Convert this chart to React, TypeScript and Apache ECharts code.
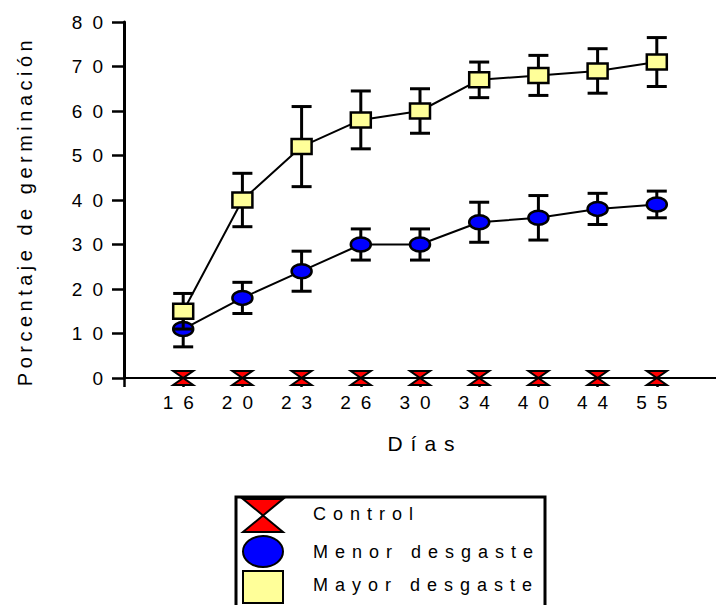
import React, { useEffect, useRef } from "react";
import * as echarts from "echarts";

const days = ["16", "20", "23", "26", "30", "34", "40", "44", "55"];
const controlValues = [0, 0, 0, 0, 0, 0, 0, 0, 0];
const controlErr = [0, 0, 0, 0, 0, 0, 0, 0, 0];
const menorValues = [11, 18, 24, 30, 30, 35, 36, 38, 39];
const menorErr = [4, 3.5, 4.5, 3.5, 3.5, 4.5, 5, 3.5, 3];
const mayorValues = [15, 40, 52, 58, 60, 67, 68, 69, 71];
const mayorErr = [4, 6, 9, 6.5, 5, 4, 4.5, 5, 5.5];
const yTicks = [0, 10, 20, 30, 40, 50, 60, 70, 80];
const seriesNames = ["Control", "Menor desgaste", "Mayor desgaste"];

const FONT = "'Liberation Sans', Arial, sans-serif";
const RED = "#FF0000";
const BLUE = "#0000FF";
const YELLOW = "#FFFF99";

type Kind = "control" | "menor" | "mayor";

function marker(kind: Kind, cx: number, cy: number) {
  if (kind === "control") {
    return {
      type: "polygon",
      shape: { points: [[cx - 10, cy - 7], [cx + 10, cy - 7], [cx - 10, cy + 7], [cx + 10, cy + 7]] },
      style: { fill: RED, stroke: "#000", lineWidth: 2 },
    };
  }
  if (kind === "menor") {
    return {
      type: "ellipse",
      shape: { cx, cy, rx: 10, ry: 7 },
      style: { fill: BLUE, stroke: "#000", lineWidth: 2.5 },
    };
  }
  return {
    type: "rect",
    shape: { x: cx - 10, y: cy - 7.5, width: 20, height: 15 },
    style: { fill: YELLOW, stroke: "#000", lineWidth: 2.5 },
  };
}

function makeRender(kind: Kind) {
  return (_params: any, api: any) => {
    const x = api.value(0);
    const y = api.value(1);
    const e = api.value(2);
    const p = api.coord([x, y]);
    const children: any[] = [];
    if (e > 0) {
      const t = api.coord([x, y + e]);
      const b = api.coord([x, y - e]);
      const st = { stroke: "#000", lineWidth: 3 };
      children.push({ type: "line", shape: { x1: p[0], y1: t[1], x2: p[0], y2: b[1] }, style: st });
      children.push({ type: "line", shape: { x1: p[0] - 10, y1: t[1], x2: p[0] + 10, y2: t[1] }, style: st });
      children.push({ type: "line", shape: { x1: p[0] - 10, y1: b[1], x2: p[0] + 10, y2: b[1] }, style: st });
    }
    children.push(marker(kind, p[0], p[1]));
    return { type: "group", children };
  };
}

function lineData(vals: number[]) {
  return vals.map((v, i) => [i, v]);
}
function errData(vals: number[], errs: number[]) {
  return vals.map((v, i) => [i, v, errs[i]]);
}

export default function App() {
  const ref = useRef<HTMLDivElement>(null);
  useEffect(() => {
    if (!ref.current) return;
    const chart = echarts.init(ref.current, undefined, { renderer: "svg" });
    const groups: [Kind, number[], number[]][] = [
      ["control", controlValues, controlErr],
      ["menor", menorValues, menorErr],
      ["mayor", mayorValues, mayorErr],
    ];
    const series: any[] = [];
    groups.forEach(([kind, vals, errs], gi) => {
      series.push({
        type: "line",
        name: seriesNames[gi],
        data: lineData(vals),
        symbol: "none",
        lineStyle: { color: "#000", width: 2 },
        z: 2 + gi * 2,
        clip: false,
      });
      series.push({
        type: "custom",
        name: seriesNames[gi] + " err",
        data: errData(vals, errs),
        encode: { x: 0, y: 1 },
        renderItem: makeRender(kind),
        z: 3 + gi * 2,
        clip: false,
      });
    });

    const legendX = 243;
    const option: any = {
      animation: false,
      backgroundColor: "#fff",
      grid: { left: 124, top: 22, bottom: 227, right: -8, containLabel: false },
      xAxis: {
        type: "value",
        min: -1,
        max: 9,
        interval: 1,
        splitLine: { show: false },
        axisLine: { show: true, onZero: false, lineStyle: { color: "#000", width: 2 } },
        axisTick: { show: true, inside: false, length: 9, lineStyle: { color: "#000", width: 2.5 } },
        axisLabel: {
          show: true,
          color: "#000",
          fontSize: 19,
          fontFamily: FONT,
          margin: 15,
          showMaxLabel: false,
          formatter: (v: number) => {
            const i = Math.round(v);
            return i >= 0 && i < days.length ? days[i] : "";
          },
        },
      },
      yAxis: {
        type: "value",
        min: 0,
        max: 80,
        interval: 10,
        splitLine: { show: false },
        axisLine: { show: true, onZero: false, lineStyle: { color: "#000", width: 3 } },
        axisTick: { show: true, inside: false, length: 12, lineStyle: { color: "#000", width: 2.5 } },
        axisLabel: {
          show: true,
          color: "#000",
          fontSize: 19,
          fontFamily: FONT,
          margin: 11,
          padding: [0, 0, 9, 0],
          formatter: (v: number) => (yTicks.includes(v) ? String(v) : ""),
        },
      },
      series,
      graphic: [
        {
          type: "text",
          x: 25,
          y: 211,
          rotation: Math.PI / 2,
          style: {
            text: "Porcentaje de germinación",
            fontSize: 20,
            fontFamily: FONT,
            fill: "#000",
            align: "center",
            verticalAlign: "middle",
            textAlign: "center",
            textVerticalAlign: "middle",
          },
        },
        {
          type: "text",
          x: 425,
          y: 443,
          style: {
            text: "Días",
            fontSize: 21,
            fontFamily: FONT,
            fill: "#000",
            align: "center",
            verticalAlign: "middle",
            textAlign: "center",
            textVerticalAlign: "middle",
          },
        },
        {
          type: "polyline",
          shape: { points: [[236, 610], [236, 497], [545, 497], [545, 610]] },
          style: { stroke: "#000", lineWidth: 3, fill: null },
        },
        {
          type: "polygon",
          shape: { points: [[legendX, 499], [legendX + 40, 499], [legendX, 532], [legendX + 40, 532]] },
          style: { fill: RED, stroke: "#000", lineWidth: 2 },
        },
        {
          type: "ellipse",
          shape: { cx: legendX + 20, cy: 551.5, rx: 20, ry: 15.5 },
          style: { fill: BLUE, stroke: "#000", lineWidth: 2 },
        },
        {
          type: "rect",
          shape: { x: legendX, y: 571, width: 40, height: 32 },
          style: { fill: YELLOW, stroke: "#000", lineWidth: 2 },
        },
        ...seriesNames.map((n, i) => ({
          type: "text",
          x: 313,
          y: [514, 552, 585][i],
          style: {
            text: n,
            fontSize: 18,
            fontFamily: FONT,
            fill: "#000",
            align: "left",
            verticalAlign: "middle",
            textAlign: "left",
            textVerticalAlign: "middle",
          },
        })),
      ],
    };
    chart.setOption(option);
    return () => chart.dispose();
  }, []);

  return (
    <>
      <style>{`
        body { margin: 0; }
        #chartbox text[style*="19px"] { letter-spacing: 10px; }
        #chartbox text[style*="18px"] { letter-spacing: 7px; }
        #chartbox text[style*="20px"] { letter-spacing: 4.5px; }
        #chartbox text[style*="21px"] { letter-spacing: 8px; }
      `}</style>
      <div
        id="chartbox"
        ref={ref}
        style={{ position: "fixed", left: 0, top: 0, width: 716, height: 605, background: "#fff" }}
      />
    </>
  );
}
